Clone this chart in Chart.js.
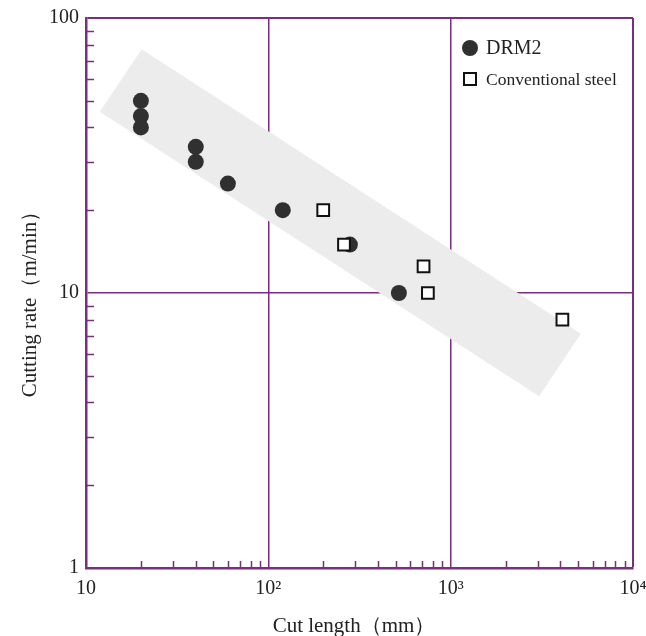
<!DOCTYPE html>
<html>
<head>
<meta charset="utf-8">
<script src="https://cdn.jsdelivr.net/npm/chart.js@4.4.0/dist/chart.umd.min.js"></script>
<style>
  html, body { margin: 0; padding: 0; background: #fff; }
  #wrap { width: 646px; height: 636px; }
</style>
</head>
<body>
<div id="wrap"><canvas id="myChart" width="646" height="636"></canvas></div>
<script>
// cut length (mm) vs cutting rate (m/min)
const drmLength = [20, 20, 20, 40, 40, 60, 120, 280, 520]
const drmRate = [50, 44, 40, 34, 30, 25, 20, 15, 10]
const steelLength = [200, 260, 710, 750, 4100]
const steelRate = [20, 15, 12.5, 10, 8]

// shaded band (closed outline)
const bandLength = [11.9, 20.2, 5175, 3055, 11.9]
const bandRate = [45.6, 76.9, 7.11, 4.21, 45.6]

const xTickValues = [10, 100, 1000, 10000]
const xTickLabels = ['10', '10²', '10³', '10⁴']
const yTickValues = [1, 10, 100]
const yTickLabels = ['1', '10', '100']

const purple = '#7b2d7f'
const serif = '"Liberation Serif", "DejaVu Serif", serif'

function toPoints(xs, ys) {
    return xs.map((x, i) => ({ x: x, y: ys[i] }))
}

// small inward ticks at 2..9 of every decade
const minorTicks = {
    id: 'minorTicks',
    afterDatasetsDraw(chart) {
        const ctx = chart.ctx
        const area = chart.chartArea
        const xs = chart.scales.x, ys = chart.scales.y
        ctx.save()
        ctx.strokeStyle = purple
        ctx.lineWidth = 1.5
        ctx.beginPath()
        for (let d = 10; d < 10000; d *= 10) {
            for (let m = 2; m <= 9; m++) {
                const px = Math.round(xs.getPixelForValue(d * m)) + 0.5
                ctx.moveTo(px, area.bottom)
                ctx.lineTo(px, area.bottom - 7)
            }
        }
        for (let d = 1; d < 100; d *= 10) {
            for (let m = 2; m <= 9; m++) {
                const py = Math.round(ys.getPixelForValue(d * m)) + 0.5
                ctx.moveTo(area.left, py)
                ctx.lineTo(area.left + 8, py)
            }
        }
        ctx.stroke()
        ctx.restore()
    }
}

// legend box in the upper right and the axis titles
const labels = {
    id: 'labels',
    afterDraw(chart) {
        const ctx = chart.ctx
        const area = chart.chartArea
        const drm = chart.data.datasets[1]
        const steel = chart.data.datasets[2]
        const lx = area.right - 163
        ctx.save()
        ctx.fillStyle = drm.backgroundColor
        ctx.beginPath()
        ctx.arc(lx, area.top + 30, 8, 0, Math.PI * 2)
        ctx.fill()
        ctx.fillStyle = steel.backgroundColor
        ctx.strokeStyle = steel.borderColor
        ctx.lineWidth = 2
        ctx.fillRect(lx - 6, area.top + 55, 12, 12)
        ctx.strokeRect(lx - 6, area.top + 55, 12, 12)

        ctx.fillStyle = '#222'
        ctx.textBaseline = 'middle'
        ctx.textAlign = 'left'
        ctx.font = '20px ' + serif
        ctx.fillText('DRM2', lx + 16, area.top + 31)
        ctx.font = '17.5px ' + serif
        ctx.fillText('Conventional steel', lx + 16, area.top + 62)

        ctx.font = '21px ' + serif
        ctx.textAlign = 'center'
        ctx.fillText('Cut length（mm）', 354, 626)
        ctx.translate(30, 299)
        ctx.rotate(-Math.PI / 2)
        ctx.fillText('Cutting rate（m/min）', 0, 0)
        ctx.restore()
    }
}

var chartField = document.querySelector('#myChart').getContext('2d')

var myChart = new Chart(chartField, {
    type: 'scatter',
    data: {
        datasets: [{
            label: 'band',
            data: toPoints(bandLength, bandRate),
            showLine: true,
            fill: 'shape',
            tension: 0,
            borderWidth: 0,
            borderColor: 'rgba(0,0,0,0)',
            backgroundColor: '#ececec',
            pointRadius: 0,
            order: 3
        }, {
            label: 'DRM2',
            data: toPoints(drmLength, drmRate),
            pointStyle: 'circle',
            pointRadius: 8,
            pointHoverRadius: 8,
            backgroundColor: '#303030',
            borderColor: '#303030',
            borderWidth: 0,
            order: 2
        }, {
            label: 'Conventional steel',
            data: toPoints(steelLength, steelRate),
            pointStyle: 'rect',
            pointRadius: 8.3,
            pointHoverRadius: 8.3,
            backgroundColor: '#ffffff',
            borderColor: '#111111',
            borderWidth: 2,
            order: 1
        }]
    },
    options: {
        responsive: false,
        animation: false,
        events: [],
        layout: { padding: { top: 18, right: 13, left: 0, bottom: 0 } },
        plugins: {
            legend: { display: false },
            tooltip: { enabled: false }
        },
        scales: {
            x: {
                type: 'logarithmic',
                min: 10,
                max: 10000,
                afterBuildTicks: s => { s.ticks = xTickValues.map(v => ({ value: v })) },
                afterFit: s => {
                    s.height = 68
                    s.paddingLeft = 0
                    s.paddingRight = 0
                },
                ticks: {
                    autoSkip: false,
                    maxRotation: 0,
                    padding: 9,
                    color: '#222',
                    font: { family: serif, size: 20 },
                    callback: v => xTickLabels[xTickValues.indexOf(v)]
                },
                grid: {
                    color: purple,
                    lineWidth: c => (c.tick && c.tick.value === 10000) ? 2 : 1.5,
                    drawTicks: false
                },
                border: { color: purple, width: 2.5 }
            },
            y: {
                type: 'logarithmic',
                min: 1,
                max: 100,
                afterBuildTicks: s => { s.ticks = yTickValues.map(v => ({ value: v })) },
                afterFit: s => {
                    s.width = 86
                    s.paddingTop = 0
                    s.paddingBottom = 0
                },
                ticks: {
                    autoSkip: false,
                    padding: 7,
                    color: '#222',
                    font: { family: serif, size: 20 },
                    callback: v => yTickLabels[yTickValues.indexOf(v)]
                },
                grid: {
                    color: purple,
                    lineWidth: c => (c.tick && c.tick.value === 100) ? 2 : 1.5,
                    drawTicks: false
                },
                border: { color: purple, width: 2.5 }
            }
        }
    },
    plugins: [minorTicks, labels]
})
</script>
</body>
</html>
